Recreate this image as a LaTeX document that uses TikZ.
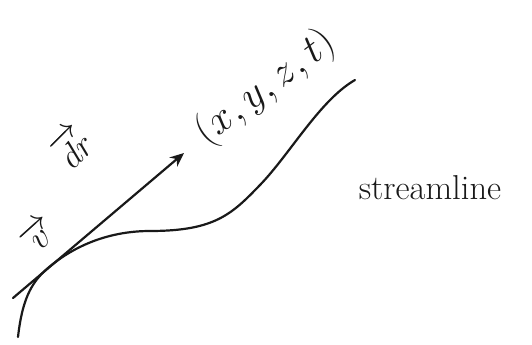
\documentclass[tikz,border=0pt]{standalone}
\definecolor{ink}{RGB}{25, 25, 25}
\usepackage{tikz}
\usepackage{amsmath}
\usetikzlibrary{arrows.meta, calc}

\begin{document}
\begin{tikzpicture}[x=0.5pt, y=-0.5pt,
        pen/.style={ink, line width=1.1pt, line cap=round},
        handlabel/.style={ink, inner sep=1pt}]
                \useasboundingbox (0,0) rectangle (532,344);

                % Streamline
                \draw[pen] (18,337) .. controls (22,302) and (30,283) .. (48,268)
                    .. controls (75,245) and (110,231) .. (150,231)
                    .. controls (215,231) and (232,214) .. (260,185)
                    .. controls (290,154) and (320,100) .. (355,80);

                % Tangent vector dr at the point
                \coordinate (tail) at (13,298);
                \coordinate (head) at (184,153);
                \draw[pen, -{Stealth[length=7pt, width=6pt]}] (tail) -- (head);

                % Labels
                \node[handlabel, rotate=42, font=\LARGE] (vlabel) at (38,235) {$\overrightarrow{\,v\,}$};
                \node[handlabel, rotate=45, font=\LARGE] (drlabel) at (72,146) {$\overrightarrow{dr}$};
                \node[handlabel, rotate=37, font=\huge] (pointlabel) at (266,88) {$(x,y,z,t)$};
                \node[handlabel, font=\LARGE] (slabel) at (430,188) {streamline};
            \end{tikzpicture}
\end{document}
